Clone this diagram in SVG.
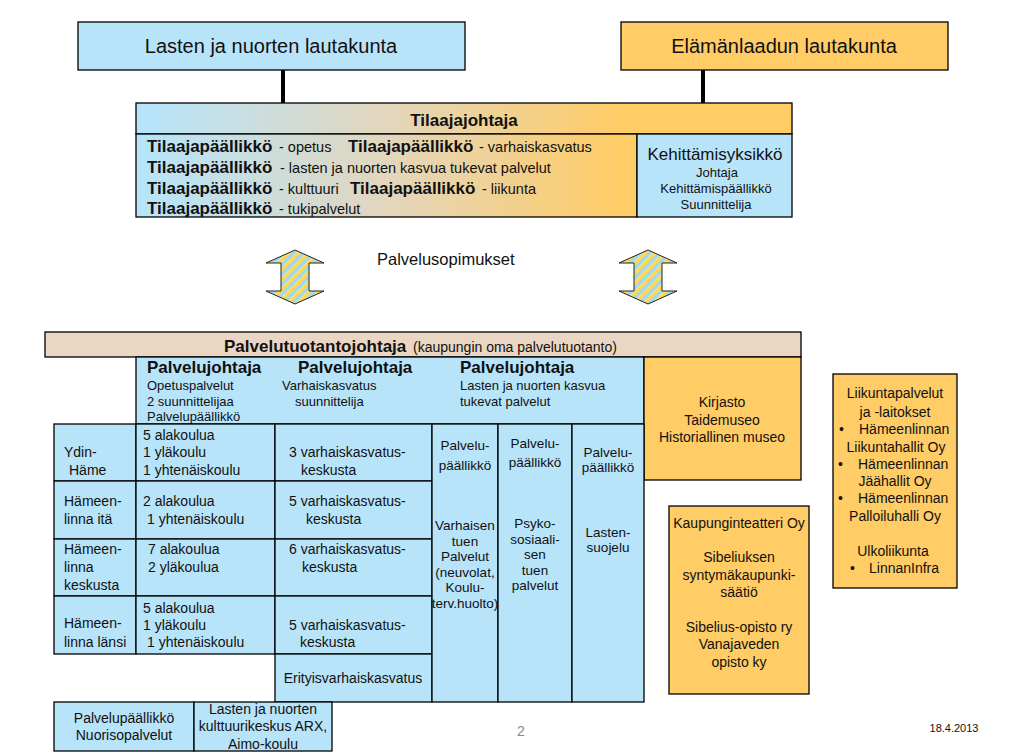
<svg xmlns="http://www.w3.org/2000/svg" width="1015" height="754" viewBox="0 0 1015 754">
<defs>
<style>
text{font-family:"Liberation Sans",Arial,sans-serif;fill:#111;}
.box{stroke:#000;stroke-width:1.3;}
.blue{fill:#b8e4fa;}
.orange{fill:#ffcc66;}
.t20{font-size:20px;}
.b17{font-size:17px;font-weight:bold;}
.s145{font-size:14.5px;}
.t14{font-size:14px;}
.t13{font-size:13px;}
.t135{font-size:13.5px;}
.mid{text-anchor:middle;}
.conn{stroke:#000;stroke-width:4;fill:none;}
</style>
<linearGradient id="grad" gradientUnits="userSpaceOnUse" x1="150" y1="0" x2="620" y2="0">
<stop offset="0" stop-color="#b8e4fa"/>
<stop offset="0.5" stop-color="#e2d6bd"/>
<stop offset="1" stop-color="#ffcc66"/>
</linearGradient>
<pattern id="stripes" patternUnits="userSpaceOnUse" width="7" height="7" patternTransform="rotate(45)">
<rect x="0" y="0" width="3.5" height="7" fill="#9fd8f2"/>
<rect x="3.5" y="0" width="3.5" height="7" fill="#ffd84f"/>
</pattern>
</defs>

<g id="connectors">
<line class="conn" x1="283" y1="70" x2="283" y2="103"/>
<line class="conn" x1="703" y1="70" x2="703" y2="103"/>
</g>

<g id="lasten-lautakunta">
<rect class="box blue" x="78" y="22" width="387" height="48"/>
<text class="t20 mid" x="271" y="53">Lasten ja nuorten lautakunta</text>
</g>

<g id="elamanlaadun-lautakunta">
<rect class="box orange" x="621" y="22" width="327" height="48"/>
<text class="t20 mid" x="784" y="53">Elämänlaadun lautakunta</text>
</g>

<g id="tilaajajohtaja">
<rect class="box" fill="url(#grad)" x="136" y="103" width="656" height="31"/>
<text class="b17 mid" x="464" y="126">Tilaajajohtaja</text>
<rect class="box" fill="url(#grad)" x="136" y="134" width="501" height="83"/>
<text y="152"><tspan class="b17" x="147">Tilaajapäällikkö</tspan><tspan class="s145" x="279">- opetus</tspan><tspan class="b17" x="348">Tilaajapäällikkö</tspan><tspan class="s145" x="479">- varhaiskasvatus</tspan></text>
<text y="173"><tspan class="b17" x="147">Tilaajapäällikkö</tspan><tspan class="s145" x="280">- lasten ja nuorten kasvua tukevat palvelut</tspan></text>
<text y="194"><tspan class="b17" x="147">Tilaajapäällikkö</tspan><tspan class="s145" x="279">- kulttuuri</tspan><tspan class="b17" x="350">Tilaajapäällikkö</tspan><tspan class="s145" x="482">- liikunta</tspan></text>
<text y="214"><tspan class="b17" x="147">Tilaajapäällikkö</tspan><tspan class="s145" x="279">- tukipalvelut</tspan></text>
</g>

<g id="kehittamisyksikko">
<rect class="box blue" x="637" y="134" width="155" height="83"/>
<text class="mid" x="715" y="160" style="font-size:17px">Kehittämisyksikkö</text>
<text class="t13 mid" x="717" y="177">Johtaja</text>
<text class="t13 mid" x="716" y="193">Kehittämispäällikkö</text>
<text class="t13 mid" x="716" y="209">Suunnittelija</text>
</g>

<g id="arrow-left">
<polygon points="295,250 324,263 309,263 309,291 324,291 295,304 266,291 281,291 281,263 266,263" fill="url(#stripes)" stroke="#222" stroke-width="1"/>
</g>
<g id="arrow-right">
<polygon points="648,250 677,263 662,263 662,291 677,291 648,304 619,291 634,291 634,263 619,263" fill="url(#stripes)" stroke="#222" stroke-width="1"/>
</g>
<g id="palvelusopimukset">
<text x="377" y="265" style="font-size:16.5px">Palvelusopimukset</text>
</g>

<g id="palvelutuotantojohtaja">
<rect class="box" fill="#ead6c2" x="45" y="332" width="756" height="25"/>
<text y="352"><tspan class="b17" x="224">Palvelutuotantojohtaja</tspan><tspan class="t14" x="413">(kaupungin oma palvelutuotanto)</tspan></text>
</g>

<g id="palvelujohtajat">
<rect class="box blue" x="136" y="357" width="508" height="67"/>
<text class="b17" x="147" y="373">Palvelujohtaja</text>
<text class="b17" x="298" y="373">Palvelujohtaja</text>
<text class="b17" x="460" y="373">Palvelujohtaja</text>
<text class="t13" x="147" y="390">Opetuspalvelut</text>
<text class="t13" x="147" y="406">2 suunnittelijaa</text>
<text class="t13" x="147" y="421">Palvelupäällikkö</text>
<text class="t13" x="282" y="390">Varhaiskasvatus</text>
<text class="t13" x="295" y="406">suunnittelija</text>
<text class="t13" x="460" y="390">Lasten ja nuorten kasvua</text>
<text class="t13" x="460" y="406">tukevat palvelut</text>
</g>

<g id="kirjasto">
<rect class="box orange" x="644" y="357" width="157" height="123"/>
<text class="t14 mid" x="722" y="407">Kirjasto</text>
<text class="t14 mid" x="722" y="425">Taidemuseo</text>
<text class="t14 mid" x="722" y="442">Historiallinen museo</text>
</g>

<g id="alueet">
<rect class="box blue" x="54" y="424" width="82" height="57"/>
<rect class="box blue" x="136" y="424" width="139" height="57"/>
<rect class="box blue" x="275" y="424" width="157" height="57"/>
<rect class="box blue" x="54" y="481" width="82" height="58"/>
<rect class="box blue" x="136" y="481" width="139" height="58"/>
<rect class="box blue" x="275" y="481" width="157" height="58"/>
<rect class="box blue" x="54" y="539" width="82" height="57"/>
<rect class="box blue" x="136" y="539" width="139" height="57"/>
<rect class="box blue" x="275" y="539" width="157" height="57"/>
<rect class="box blue" x="54" y="596" width="82" height="58"/>
<rect class="box blue" x="136" y="596" width="139" height="58"/>
<rect class="box blue" x="275" y="596" width="157" height="58"/>
<g class="t14">
<text x="64" y="457">Ydin-</text>
<text x="69" y="475">Häme</text>
<text x="64" y="506">Hämeen-</text>
<text x="64" y="524">linna itä</text>
<text x="64" y="554">Hämeen-</text>
<text x="64" y="572">linna</text>
<text x="64" y="590">keskusta</text>
<text x="64" y="628">Hämeen-</text>
<text x="64" y="647">linna länsi</text>
<text x="143" y="440">5 alakoulua</text>
<text x="143" y="457">1 yläkoulu</text>
<text x="143" y="475">1 yhtenäiskoulu</text>
<text x="143" y="506">2 alakoulua</text>
<text x="147" y="524">1 yhtenäiskoulu</text>
<text x="148" y="554">7 alakoulua</text>
<text x="148" y="572">2 yläkoulua</text>
<text x="143" y="613">5 alakoulua</text>
<text x="143" y="630">1 yläkoulu</text>
<text x="147" y="647">1 yhtenäiskoulu</text>
<text x="289" y="457">3 varhaiskasvatus-</text>
<text x="301" y="475">keskusta</text>
<text x="289" y="506">5 varhaiskasvatus-</text>
<text x="306" y="524">keskusta</text>
<text x="289" y="554">6 varhaiskasvatus-</text>
<text x="302" y="572">keskusta</text>
<text x="289" y="630">5 varhaiskasvatus-</text>
<text x="300" y="647">keskusta</text>
</g>
</g>

<g id="erityisvarhaiskasvatus">
<rect class="box blue" x="275" y="654" width="157" height="48"/>
<text class="t14 mid" x="353" y="683">Erityisvarhaiskasvatus</text>
</g>

<g id="varhaisen-tuen-palvelut">
<rect class="box blue" x="432" y="424" width="66" height="278"/>
<g class="t135 mid">
<text x="465" y="450">Palvelu-</text>
<text x="465" y="470">päällikkö</text>
<text x="465" y="530">Varhaisen</text>
<text x="465" y="546">tuen</text>
<text x="465" y="561">Palvelut</text>
<text x="465" y="577">(neuvolat,</text>
<text x="465" y="592">Koulu-</text>
<text x="465" y="608">terv.huolto)</text>
</g>
</g>

<g id="psykososiaalinen-tuki">
<rect class="box blue" x="498" y="424" width="74" height="278"/>
<g class="t135 mid">
<text x="535" y="448">Palvelu-</text>
<text x="535" y="467">päällikkö</text>
<text x="535" y="528">Psyko-</text>
<text x="535" y="544">sosiaali-</text>
<text x="535" y="559">sen</text>
<text x="535" y="575">tuen</text>
<text x="535" y="590">palvelut</text>
</g>
</g>

<g id="lastensuojelu">
<rect class="box blue" x="572" y="424" width="72" height="278"/>
<g class="t135 mid">
<text x="608" y="457">Palvelu-</text>
<text x="608" y="472">päällikkö</text>
<text x="608" y="537">Lasten-</text>
<text x="608" y="552">suojelu</text>
</g>
</g>

<g id="liikuntapalvelut">
<rect class="box orange" x="833" y="374" width="124" height="214"/>
<g class="t14">
<text class="mid" x="895" y="398">Liikuntapalvelut</text>
<text class="mid" x="895" y="417">ja -laitokset</text>
<text x="839" y="434">•</text><text x="859" y="434">Hämeenlinnan</text>
<text class="mid" x="896" y="452">Liikuntahallit Oy</text>
<text x="838" y="469">•</text><text x="858" y="469">Hämeenlinnan</text>
<text class="mid" x="895" y="486">Jäähallit Oy</text>
<text x="838" y="503">•</text><text x="858" y="503">Hämeenlinnan</text>
<text class="mid" x="895" y="521">Palloiluhalli Oy</text>
<text class="mid" x="893" y="556">Ulkoliikunta</text>
<text x="850" y="573">•</text><text x="869" y="573">LinnanInfra</text>
</g>
</g>

<g id="kaupunginteatteri">
<rect class="box orange" x="669" y="506" width="140" height="188"/>
<g class="t14 mid">
<text x="739" y="528">Kaupunginteatteri Oy</text>
<text x="739" y="562">Sibeliuksen</text>
<text x="739" y="580">syntymäkaupunki-</text>
<text x="739" y="597">säätiö</text>
<text x="739" y="632">Sibelius-opisto ry</text>
<text x="739" y="649">Vanajaveden</text>
<text x="739" y="667">opisto ky</text>
</g>
</g>

<g id="nuorisopalvelut">
<rect class="box blue" x="54" y="702" width="140" height="49"/>
<text class="t14 mid" x="124" y="723">Palvelupäällikkö</text>
<text class="t14 mid" x="124" y="740">Nuorisopalvelut</text>
</g>

<g id="arx">
<rect class="box blue" x="194" y="702" width="138" height="49"/>
<text class="t14 mid" x="263" y="714">Lasten ja nuorten</text>
<text class="t14 mid" x="263" y="731">kulttuurikeskus ARX,</text>
<text class="t14 mid" x="263" y="749">Aimo-koulu</text>
</g>

<text x="521" y="736" class="t14 mid" style="fill:#888">2</text>
<text x="954" y="732" class="mid" style="font-size:11px">18.4.2013</text>
</svg>
